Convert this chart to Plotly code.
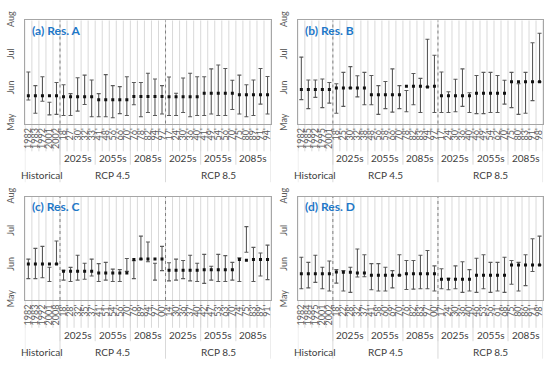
import plotly.graph_objects as go

# ---------------- data (day of year) ----------------
MONTH_VALS = [121, 152, 182, 213]
MONTH_TEXT = ['May', 'Jun', 'Jul', 'Aug']
GROUPS = ['2025s', '2055s', '2085s', '2025s', '2055s', '2085s']
SCENARIOS = ['Historical', 'RCP 4.5', 'RCP 8.5']
TITLES = ['(a) Res. A', '(b) Res. B', '(c) Res. C', '(d) Res. D']

ticks_a = ['1982', '1983', '1992', '2001', '2002',
           "18'", "27'", "30'", "32'", "33'", "41'", "48'", "56'", "66'", "70'", "76'", "78'", "82'", "94'", "97'",
           "17'", "24'", "30'", "36'", "40'", "41'", "49'", "54'", "56'", "70'", "75'", "80'", "89'", "91'", "94'"]
mean_a = [145.7, 145.7, 145.7, 145.7, 145.7,
          144.8, 144.8, 144.8, 144.8, 144.8, 142.3, 142.3, 142.3, 142.3, 142.3, 145.1, 145.1, 145.1, 145.1, 145.1,
          144.8, 144.8, 144.8, 144.8, 144.8, 148.0, 148.0, 148.0, 148.0, 148.0, 146.6, 146.6, 146.6, 146.6, 146.6]
high_a = [167.0, 154.8, 162.7, 140.0, 157.6,
          155.6, 147.7, 161.9, 164.2, 159.9, 147.7, 164.7, 154.8, 153.9, 162.7, 157.6, 157.6, 165.9, 160.8, 154.8,
          162.5, 148.0, 161.6, 165.9, 162.7, 162.7, 169.8, 173.2, 170.1, 159.6, 164.2, 155.6, 159.9, 170.1, 163.0]
low_a = [142.0, 130.1, 140.9, 128.7, 129.2,
         128.1, 128.1, 132.1, 138.0, 127.0, 127.0, 127.0, 126.1, 129.8, 128.1, 137.8, 127.0, 130.9, 128.1, 129.5,
         128.1, 128.1, 130.9, 127.0, 128.1, 128.1, 129.5, 128.1, 128.1, 133.5, 129.5, 127.0, 128.1, 138.3, 129.5]

ticks_b = ['1982', '1985', '1992', '1995', '2001',
           "18'", "25'", "30'", "32'", "38'", "48'", "56'", "58'", "66'", "70'", "78'", "82'", "83'", "94'", "97'",
           "17'", "24'", "30'", "36'", "40'", "46'", "49'", "54'", "62'", "70'", "75'", "80'", "83'", "91'", "98'"]
mean_b = [151.4, 151.4, 151.4, 151.4, 151.4,
          152.8, 152.8, 152.8, 152.8, 152.8, 146.6, 146.6, 146.6, 146.6, 146.6, 154.2, 154.2, 154.2, 153.7, 154.2,
          145.7, 145.7, 145.7, 145.7, 145.7, 148.0, 148.0, 148.0, 148.0, 148.0, 158.2, 158.2, 158.2, 158.2, 158.2]
high_b = [180.3, 159.9, 159.9, 160.8, 157.6,
          156.5, 166.7, 171.8, 163.6, 166.7, 163.9, 154.8, 158.5, 169.8, 154.8, 150.5, 165.6, 161.3, 196.2, 182.0,
          167.0, 149.4, 160.5, 169.8, 148.5, 163.9, 166.7, 166.7, 163.9, 159.6, 166.7, 156.5, 166.7, 193.1, 201.6]
low_b = [142.3, 134.3, 144.3, 135.2, 139.2,
         130.1, 136.3, 152.8, 144.8, 137.8, 137.8, 129.2, 134.3, 131.2, 134.3, 131.5, 137.8, 130.9, 153.7, 130.9,
         130.9, 130.9, 131.5, 136.3, 130.9, 129.8, 129.8, 130.9, 130.9, 138.3, 135.2, 129.2, 130.1, 141.4, 158.2]

ticks_c = ['1982', '1983', '1992', '2001', '2008',
           "18'", "28'", "32'", "35'", "37'", "41'", "51'", "54'", "56'", "70'", "76'", "89'", "94'", "97'", "00'",
           "14'", "30'", "36'", "37'", "40'", "42'", "47'", "53'", "63'", "70'", "74'", "75'", "83'", "89'", "91'"]
mean_c = [153.2, 153.2, 153.2, 153.2, 153.2,
          146.6, 146.6, 146.6, 146.6, 146.6, 145.2, 145.2, 145.2, 145.2, 145.2, 157.2, 157.5, 157.5, 157.5, 157.5,
          147.5, 147.5, 147.5, 147.5, 147.5, 148.1, 148.1, 148.1, 148.1, 148.1, 157.2, 156.6, 157.2, 157.2, 157.2]
high_c = [157.5, 167.1, 168.9, 150.3, 173.7,
          147.5, 150.1, 160.9, 153.8, 157.5, 153.5, 154.6, 148.6, 148.1, 158.0, 156.0, 178.0, 172.8, 153.8, 168.9,
          154.3, 157.5, 156.3, 160.9, 153.8, 161.7, 151.2, 161.7, 160.6, 154.6, 158.6, 186.5, 168.0, 162.9, 170.0]
low_c = [140.1, 140.1, 140.9, 137.5, 153.2,
         138.7, 137.5, 138.7, 139.5, 142.4, 137.5, 138.7, 137.5, 137.5, 146.6, 140.1, 157.5, 155.2, 138.7, 147.2,
         138.1, 138.7, 140.1, 138.1, 137.5, 135.8, 138.7, 137.5, 137.5, 138.7, 137.5, 163.7, 137.5, 142.4, 139.2]

ticks_d = ['1982', '1984', '1995', '2001', '2002',
           "18'", "22'", "28'", "32'", "37'", "41'", "58'", "60'", "69'", "70'", "76'", "82'", "83'", "97'", "00'",
           "17'", "24'", "30'", "36'", "40'", "46'", "53'", "56'", "61'", "68'", "75'", "80'", "86'", "91'", "98'"]
mean_d = [144.4, 144.4, 144.4, 144.4, 144.4,
          146.1, 145.8, 145.8, 145.2, 145.2, 143.2, 143.2, 143.2, 143.2, 143.2, 144.4, 144.4, 144.4, 144.4, 144.4,
          139.5, 139.5, 139.5, 139.5, 139.5, 143.2, 143.2, 143.2, 143.2, 143.2, 152.3, 152.3, 152.3, 152.3, 152.3]
high_d = [159.2, 154.6, 160.9, 150.3, 155.8,
          148.1, 147.2, 150.3, 166.6, 161.4, 153.5, 153.5, 150.3, 147.2, 161.4, 156.3, 156.3, 160.9, 165.2, 151.5,
          148.9, 140.4, 151.5, 155.2, 148.1, 158.3, 161.4, 154.6, 154.6, 159.2, 156.3, 154.6, 161.4, 175.7, 178.0]
low_d = [131.0, 131.8, 136.7, 131.0, 129.0,
         136.1, 129.0, 127.8, 141.5, 141.8, 130.1, 129.0, 129.0, 131.8, 143.2, 130.4, 130.7, 131.0, 131.0, 129.0,
         131.0, 130.1, 131.0, 127.8, 129.0, 127.8, 131.0, 127.8, 129.0, 127.8, 135.0, 129.0, 133.8, 146.4, 152.3]

# ---------------- layout helpers ----------------
W, H = 550, 369
FONT = 'Lato'
GREY_TXT = '#595959'
panels = [
    (ticks_a, mean_a, high_a, low_a),
    (ticks_b, mean_b, high_b, low_b),
    (ticks_c, mean_c, high_c, low_c),
    (ticks_d, mean_d, high_d, low_d),
]
xdom = [[22 / W, 270 / W], [297 / W, 544 / W]]
ydom = [[1 - 119 / H, 1 - 11 / H], [1 - 304 / H, 1 - 196 / H]]
group_sizes = [5, 15, 15]
sub_sizes = [5, 5, 5, 5, 5, 5]

fig = go.Figure()
shapes = []
annotations = []

for i, (ticks, mean, high, low) in enumerate(panels):
    n = len(ticks)
    xs = list(range(n))
    ax = '' if i == 0 else str(i + 1)
    xa, ya = 'x' + ax, 'y' + ax
    # whiskers drawn from the high value down to the low value
    fig.add_trace(go.Scatter(
        x=xs, y=high, xaxis=xa, yaxis=ya, mode='markers',
        marker=dict(size=1, color='rgba(0,0,0,0)'),
        error_y=dict(type='data', symmetric=False, array=[0] * n,
                     arrayminus=[h - l for h, l in zip(high, low)],
                     color='#5a5a5a', thickness=1.1, width=2),
        showlegend=False, hoverinfo='skip'))
    fig.add_trace(go.Scatter(
        x=xs, y=mean, xaxis=xa, yaxis=ya, mode='markers',
        marker=dict(symbol='square', size=3, color='#111111'),
        showlegend=False))

    col, row = i % 2, i // 2
    fig.update_layout(**{
        'xaxis' + ax: dict(domain=xdom[col], anchor=ya, range=[-0.5, n - 0.5],
                           tickmode='array', tickvals=xs, ticktext=ticks, tickangle=-90,
                           tickfont=dict(size=9, color=GREY_TXT, family=FONT),
                           showgrid=False, zeroline=False, ticks='',
                           showline=True, linecolor='#a6a6a6', linewidth=1, mirror=True),
        'yaxis' + ax: dict(domain=ydom[row], anchor=xa, range=[121, 213],
                           tickmode='array', tickvals=MONTH_VALS, ticktext=MONTH_TEXT,
                           tickangle=-90, ticklabelstandoff=6,
                           tickfont=dict(size=9, color=GREY_TXT, family=FONT),
                           showgrid=False, zeroline=False, ticks='',
                           showline=True, linecolor='#a6a6a6', linewidth=1, mirror=True),
    })
    xref = xa
    yref = ya + ' domain'
    # category boundary gridlines
    for k in range(n + 1):
        shapes.append(dict(type='line', xref=xref, yref=yref, x0=k - 0.5, x1=k - 0.5,
                           y0=-0.27, y1=1, line=dict(color='#d9d9d9', width=1), layer='below'))
    # period separators and labels
    pos = group_sizes[0]
    for g, size in enumerate(sub_sizes):
        shapes.append(dict(type='line', xref=xref, yref=yref, x0=pos - 0.5, x1=pos - 0.5,
                           y0=-0.40, y1=0, line=dict(color='#d9d9d9', width=1), layer='below'))
        annotations.append(dict(xref=xref, yref=yref, x=pos + (size - 1) / 2, y=-0.335,
                                yanchor='middle', text=GROUPS[g], showarrow=False,
                                font=dict(size=10, color='#404040', family=FONT)))
        pos += size
    # scenario separators and labels
    pos = 0
    for s, size in enumerate(group_sizes):
        shapes.append(dict(type='line', xref=xref, yref=yref, x0=pos - 0.5, x1=pos - 0.5,
                           y0=-0.57, y1=0, line=dict(color='#d9d9d9', width=1), layer='below'))
        annotations.append(dict(xref=xref, yref=yref, x=pos + (size - 1) / 2, y=-0.5,
                                yanchor='middle', text=SCENARIOS[s], showarrow=False,
                                font=dict(size=10, color='#404040', family=FONT)))
        if s > 0:
            shapes.append(dict(type='line', xref=xref, yref=yref, x0=pos - 0.5, x1=pos - 0.5,
                               y0=0, y1=1, line=dict(color='#7f7f7f', width=1, dash='dot')))
        pos += size
    shapes.append(dict(type='line', xref=xref, yref=yref, x0=n - 0.5, x1=n - 0.5,
                       y0=-0.57, y1=0, line=dict(color='#d9d9d9', width=1), layer='below'))
    # panel title
    annotations.append(dict(xref=xa + ' domain', yref=yref, x=0.02, y=0.905,
                            xanchor='left', yanchor='middle', text='<b>' + TITLES[i] + '</b>',
                            showarrow=False, font=dict(size=12, color='#1f78c8', family=FONT)))

fig.update_layout(width=W, height=H, margin=dict(l=0, r=0, t=0, b=0),
                  paper_bgcolor='white', plot_bgcolor='white',
                  shapes=shapes, annotations=annotations,
                  font=dict(family=FONT))
fig.write_html('out.html', config={'displayModeBar': False},
               post_script="document.body.style.margin='0';document.body.style.overflow='hidden';")
